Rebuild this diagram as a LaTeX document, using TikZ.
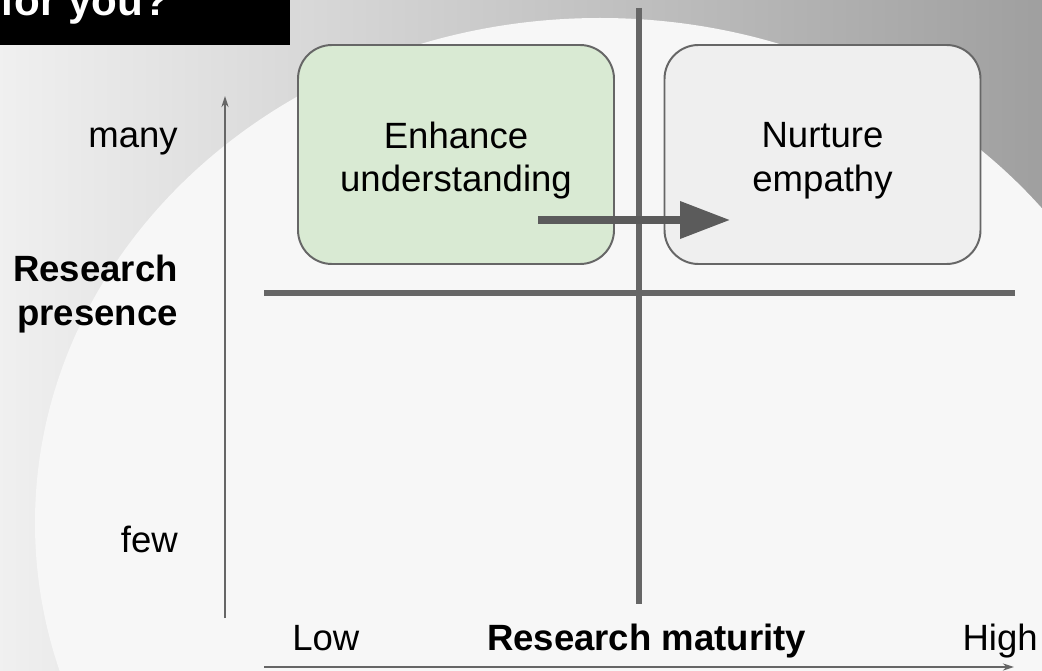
\documentclass[tikz,border=0pt]{standalone}
\usepackage{fontspec}
\setmainfont{Liberation Sans}
\usetikzlibrary{arrows.meta}
\definecolor{lineg}{HTML}{666666}
\definecolor{arrg}{HTML}{5B5B5B}
\definecolor{enhg}{HTML}{D9EAD3}
\definecolor{nurg}{HTML}{EFEFEF}
\definecolor{bgin}{HTML}{F7F7F7}

\begin{document}
\begin{tikzpicture}[x=0.25mm, y=0.25mm,
    quad/.style={draw=lineg, line width=1.4pt, rounded corners=8.5mm, minimum width=79mm, minimum height=54.75mm, inner sep=0pt},
    quadtext/.style={align=center, font=\fontsize{26}{31}\selectfont, inner sep=0pt},
    lbl/.style={font=\fontsize{26}{31}\selectfont, inner sep=0pt},
    lblb/.style={font=\fontsize{26}{31}\selectfont\bfseries, inner sep=0pt},
    bar/.style={draw=lineg, line width=3.6pt},
    axis/.style={draw=lineg, line width=1pt, -{Stealth[length=2.8mm, width=1.8mm]}}]
  \useasboundingbox (0, 0) rectangle (1042, -671);
  \clip (0, 0) rectangle (1042, -671);
  % Background and title bar:
  \shade[left color=gray!12, right color=gray!75] (0, 0) rectangle (1042, -671);
  \fill[bgin] (600, -523) ellipse [x radius=565, y radius=505];
  \fill[black] (0, 0) rectangle (290, -45);
  \node[anchor=base west, inner sep=0pt, text=white, font=\fontsize{30}{36}\selectfont\bfseries] (T0) at (0, -16){for you?};
  % Quadrants:
  \coordinate (V1) at (639, -8);
  \coordinate (V2) at (639, -604);
  \coordinate (H1) at (264, -293);
  \coordinate (H2) at (1015, -293);
  \draw[bar] (V1) -- (V2);
  \draw[bar] (H1) -- (H2);
  \node[quad, fill=enhg] (B1) at (456, -154.5){};
  \node[quad, fill=nurg] (B2) at (822.5, -154.5){};
  \node[quadtext] (T1) at ([yshift=-1.5mm]B1.center){Enhance\\understanding};
  \node[quadtext] (T2) at ([yshift=-1.5mm]B2.center){Nurture\\empathy};
  \coordinate (A1) at (538, -220);
  \coordinate (A2) at (730, -220);
  \draw[arrg, line width=5pt, -{Triangle[length=12.5mm, width=9mm]}] (A1) -- (A2);
  % Axes and labels:
  \coordinate (Y1) at (225, -618);
  \coordinate (Y2) at (225, -96);
  \coordinate (X1) at (264, -667);
  \coordinate (X2) at (1014, -667);
  \draw[axis] (Y1) -- (Y2);
  \draw[axis] (X1) -- (X2);
  \node[lbl, anchor=base east] (L1) at (178, -148){many};
  \node[lblb, anchor=base east, align=right] (L2) at (178, -325){Research\\presence};
  \node[lbl, anchor=base east] (L3) at (178, -552){few};
  \node[lbl, anchor=base west] (L4) at (292, -650){Low};
  \node[lblb, anchor=base] (L5) at (646.5, -650){Research maturity};
  \node[lbl, anchor=base east] (L6) at (1038, -650){High};
\end{tikzpicture}
\end{document}
